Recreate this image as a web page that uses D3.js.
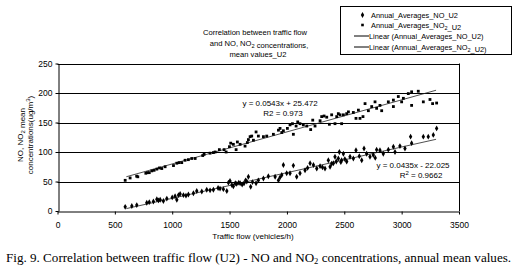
<!DOCTYPE html>
<html>
<head>
<meta charset="utf-8">
<script src="https://cdn.jsdelivr.net/npm/d3@7"></script>
<style>
  body { margin: 0; background: #fff; }
  text { font-family: "Liberation Sans", Arial, sans-serif; fill: #000; }
  .caption { font-family: "Liberation Serif", "Times New Roman", serif; }
</style>
</head>
<body>
<svg id="chart"></svg>
<script>
// data
const noFlow = [590, 648, 691, 778, 800, 836, 866, 880, 895, 923, 953, 1000, 1025, 1040, 1055, 1069, 1098, 1120, 1141, 1185, 1214, 1258, 1301, 1330, 1359, 1400, 1417, 1446, 1476, 1490, 1504, 1520, 1533, 1550, 1562, 1580, 1592, 1610, 1626, 1640, 1650, 1664, 1684, 1700, 1731, 1751, 1795, 1838, 1897, 1926, 1940, 1955, 1969, 1998, 2027, 2056, 2085, 2114, 2158, 2180, 2202, 2231, 2260, 2289, 2310, 2332, 2361, 2376, 2390, 2405, 2419, 2430, 2448, 2457, 2470, 2477, 2492, 2505, 2521, 2550, 2579, 2602, 2631, 2652, 2672, 2695, 2724, 2753, 2770, 2782, 2811, 2840, 2884, 2928, 2942, 2985, 3029, 3078, 3087, 3189, 3232, 3276, 3305];
const noConc = [7, 8.5, 10, 14, 15, 16, 20, 18, 19, 17, 21, 23, 25, 19, 27, 29, 27, 26, 28, 30, 34, 33, 36, 35, 36, 39, 38, 37, 34, 48, 51, 44, 42, 47, 46, 48, 47, 45, 47, 52, 50, 58, 41, 49, 47, 52, 55, 59, 58, 52, 57, 61, 78, 64, 64, 77, 58, 64, 69, 73, 81, 78, 72, 76, 74, 72, 86, 75, 80, 81, 92, 84, 89, 100, 83, 86, 97, 88, 84, 92, 89, 103, 93, 86, 106, 97, 92, 95, 90, 104, 103, 97, 104, 109, 100, 110, 106, 126, 115, 126, 126, 129, 140];

const no2Flow = [590, 633, 690, 700, 770, 784, 800, 822, 842, 866, 889, 909, 938, 1011, 1040, 1060, 1083, 1112, 1141, 1170, 1200, 1266, 1278, 1330, 1359, 1374, 1411, 1452, 1470, 1499, 1510, 1533, 1557, 1568, 1592, 1635, 1655, 1664, 1679, 1693, 1708, 1731, 1751, 1795, 1824, 1882, 1926, 1940, 1955, 1969, 2004, 2027, 2048, 2056, 2080, 2094, 2114, 2143, 2173, 2207, 2225, 2245, 2289, 2303, 2324, 2347, 2370, 2390, 2419, 2434, 2448, 2463, 2477, 2492, 2521, 2536, 2579, 2602, 2623, 2637, 2663, 2681, 2710, 2739, 2768, 2782, 2811, 2826, 2884, 2928, 2928, 2971, 3000, 3015, 3058, 3087, 3087, 3145, 3189, 3247, 3270, 3305];
const no2Conc = [52, 56, 59, 58, 64, 65, 65, 68, 69, 71, 73, 72, 75, 77, 81, 82, 82, 86, 87, 89, 89, 94, 96, 98, 99, 100, 104, 104, 100, 109, 115, 113, 104, 117, 113, 110, 116, 121, 126, 127, 120, 134, 127, 126, 127, 130, 137, 140, 133, 136, 140, 146, 148, 130, 144, 151, 148, 146, 144, 138, 154, 144, 153, 160, 161, 159, 147, 163, 148, 160, 165, 163, 148, 163, 165, 168, 167, 157, 171, 157, 160, 182, 170, 177, 185, 174, 179, 170, 185, 188, 177, 194, 185, 191, 199, 202, 179, 203, 185, 189, 182, 183];

// trend lines (slope, intercept) from the chart labels
const fitNO = [0.0435, -22.025];
const fitNO2 = [0.0543, 25.472];
const fitRange = [600, 3300];

const xTicks = [0, 500, 1000, 1500, 2000, 2500, 3000, 3500];
const yTicks = [0, 50, 100, 150, 200, 250];

const width = 524;
const height = 269;
const margin = { left: 57.5, right: 65, top: 63.5, bottom: 58 };

const svg = d3.select('svg#chart').attr('width', width).attr('height', height);

const x = d3.scaleLinear().domain([0, 3500]).range([margin.left, width - margin.right]);
const y = d3.scaleLinear().domain([0, 250]).range([height - margin.bottom, margin.top]);

// gridlines
svg.append('g').selectAll('line').data(yTicks.slice(1)).enter().append('line')
  .attr('x1', x(0)).attr('x2', x(3500))
  .attr('y1', d => Math.round(y(d)) + 0.5).attr('y2', d => Math.round(y(d)) + 0.5)
  .attr('stroke', '#000').attr('stroke-width', 1);

// right border
svg.append('line')
  .attr('x1', Math.round(x(3500)) + 0.5).attr('x2', Math.round(x(3500)) + 0.5)
  .attr('y1', y(250)).attr('y2', y(0))
  .attr('stroke', '#000');

// axes
const xAxis = svg.append('g')
  .attr('transform', 'translate(0,' + (Math.round(y(0)) + 0.5) + ')')
  .call(d3.axisBottom(x).tickValues(xTicks).tickFormat(d3.format('d')).tickSize(3).tickSizeOuter(0));
const yAxis = svg.append('g')
  .attr('transform', 'translate(' + (Math.round(x(0)) + 0.5) + ',0)')
  .call(d3.axisLeft(y).tickValues(yTicks).tickSize(3).tickSizeOuter(0));

[xAxis, yAxis].forEach(a => {
  a.selectAll('path, line').attr('stroke', '#000');
  a.selectAll('text').style('font-size', '8.5px').style('font-family', '"Liberation Sans", Arial, sans-serif');
});
xAxis.selectAll('text').attr('dy', '1.2em');
yAxis.selectAll('text').attr('x', -6);

// trend lines
[fitNO, fitNO2].forEach(f => {
  svg.append('line')
    .attr('x1', x(fitRange[0])).attr('y1', y(f[0] * fitRange[0] + f[1]))
    .attr('x2', x(fitRange[1])).attr('y2', y(f[0] * fitRange[1] + f[1]))
    .attr('stroke', '#222').attr('stroke-width', 0.8);
});

// points
const diamond = d3.symbol().type(d3.symbolDiamond).size(10);
svg.append('g').selectAll('path').data(noFlow.map((d, i) => [d, noConc[i]])).enter().append('path')
  .attr('d', diamond)
  .attr('transform', d => 'translate(' + x(d[0]) + ',' + y(d[1]) + ')')
  .attr('fill', '#000');

svg.append('g').selectAll('rect').data(no2Flow.map((d, i) => [d, no2Conc[i]])).enter().append('rect')
  .attr('x', d => x(d[0]) - 1.4).attr('y', d => y(d[1]) - 1.4)
  .attr('width', 2.8).attr('height', 2.8)
  .attr('fill', '#000');

// equation labels
function eq(cx, cy, txt) {
  svg.append('text').attr('x', cx).attr('y', cy).attr('text-anchor', 'middle')
    .style('font-size', '8px').text(txt);
}
eq(280, 106, 'y = 0.0543x + 25.472');
eq(283, 116, 'R2 = 0.973');
eq(413, 168, 'y = 0.0435x - 22.025');
const r2 = svg.append('text').attr('x', 421).attr('y', 178).attr('text-anchor', 'middle').style('font-size', '8px');
r2.append('tspan').text('R');
r2.append('tspan').attr('dy', -3).style('font-size', '6px').text('2');
r2.append('tspan').attr('dy', 3).text(' = 0.9662');

// helper for text with subscript 2
function sub2(sel, parts) {
  parts.forEach(p => {
    if (p === '_2') {
      sel.append('tspan').attr('dy', 2).style('font-size', '0.75em').text('2');
      sel.append('tspan').attr('dy', -2).text('');
    } else {
      sel.append('tspan').text(p);
    }
  });
}

// title
const title = svg.append('text').attr('text-anchor', 'middle').style('font-size', '7.6px');
title.append('tspan').attr('x', 255).attr('y', 34.5).text('Correlation between traffic flow');
const t2 = svg.append('text').attr('x', 259).attr('y', 46).attr('text-anchor', 'middle').style('font-size', '7.6px');
sub2(t2, ['and NO, NO', '_2', ' concentrations,']);
svg.append('text').attr('x', 258).attr('y', 56.5).attr('text-anchor', 'middle').style('font-size', '7.6px')
  .text('mean values_U2');

// y label
const yl = svg.append('g').attr('transform', 'translate(23,135) rotate(-90)');
const yl1 = yl.append('text').attr('text-anchor', 'middle').attr('y', 0).style('font-size', '8px');
sub2(yl1, ['NO, NO', '_2', ' mean']);
const yl2 = yl.append('text').attr('text-anchor', 'middle').attr('y', 10).style('font-size', '8px');
yl2.append('tspan').text('concentrations(ug/m');
yl2.append('tspan').attr('dy', -3).style('font-size', '6px').text('3');
yl2.append('tspan').attr('dy', 3).text(')');

// x label
svg.append('text').attr('x', 253).attr('y', 239).attr('text-anchor', 'middle').style('font-size', '8px')
  .text('Traffic flow (vehicles/h)');

// legend
svg.append('rect').attr('x', 340.5).attr('y', 6.5).attr('width', 171).attr('height', 48)
  .attr('fill', '#fff').attr('stroke', '#000');
const lg = svg.append('g').style('font-size', '7.4px');
lg.append('path').attr('d', diamond).attr('transform', 'translate(362.5,15)');
lg.append('rect').attr('x', 361.2).attr('y', 23.7).attr('width', 2.6).attr('height', 2.6);
lg.append('line').attr('x1', 354).attr('x2', 369).attr('y1', 36).attr('y2', 36).attr('stroke', '#000');
lg.append('line').attr('x1', 354).attr('x2', 369).attr('y1', 47).attr('y2', 47).attr('stroke', '#000');
lg.append('text').attr('x', 371).attr('y', 17.5).text('Annual_Averages_NO_U2');
sub2(lg.append('text').attr('x', 371).attr('y', 28), ['Annual_Averages_NO', '_2', '_U2']);
lg.append('text').attr('x', 369).attr('y', 39).text('Linear (Annual_Averages_NO_U2)');
sub2(lg.append('text').attr('x', 369).attr('y', 50), ['Linear (Annual_Averages_NO', '_2', '_U2)']);

// caption
const cap = svg.append('text').attr('class', 'caption').attr('x', 6).attr('y', 262).style('font-size', '13.1px');
cap.append('tspan').text('Fig. 9. Correlation between traffic flow (U2) - NO and NO');
cap.append('tspan').attr('dy', 2).style('font-size', '8.5px').text('2');
cap.append('tspan').attr('dy', -2).text(' concentrations, annual mean values.');
</script>
</body>
</html>
